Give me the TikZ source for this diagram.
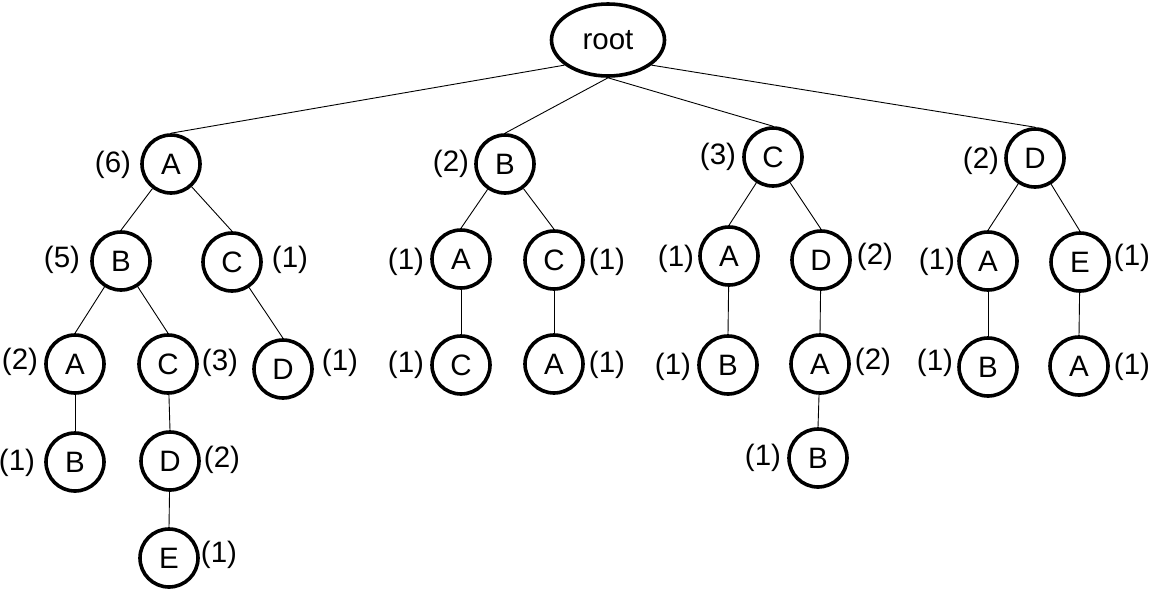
\documentclass[tikz,border=0pt]{standalone}
\usepackage{fontspec}
\setmainfont{Liberation Sans}
\usetikzlibrary{shapes.geometric}
\begin{document}
\begin{tikzpicture}[x=1pt,y=-1pt,
  nd/.style={circle,draw,line width=3.6pt,minimum size=58pt,inner sep=0pt,font=\fontsize{29.5}{31}\selectfont},
  rt/.style={ellipse,draw,line width=3.6pt,minimum width=113pt,minimum height=72pt,inner sep=0pt,font=\fontsize{29.5}{31}\selectfont},
  lb/.style={inner sep=0pt,font=\fontsize{29.5}{31}\selectfont},
  ed/.style={line width=0.9pt}]
\useasboundingbox (0,0) rectangle (1150,590);
% root
\node[rt] (r) at (608,40) {root};
% level 1
\node[nd] (a) at (171,164) {A};
\node[nd] (b) at (505,164) {B};
\node[nd] (c) at (773,157) {C};
\node[nd] (d) at (1035,158) {D};
\node[lb] (la) at (113,165) {(6)};
\node[lb] (lb1) at (451,164) {(2)};
\node[lb] (lc) at (718,157) {(3)};
\node[lb] (ld) at (981,161) {(2)};
% level 2
\node[nd] (ab) at (121,261) {B};
\node[nd] (ac) at (232,262) {C};
\node[nd] (ba) at (461,259) {A};
\node[nd] (bc) at (554,260) {C};
\node[nd] (ca) at (729,256) {A};
\node[nd] (cd) at (821,260) {D};
\node[nd] (da) at (988,261) {A};
\node[nd] (de) at (1080,262) {E};
\node[lb] (lab) at (62,260) {(5)};
\node[lb] (lac) at (290,260) {(1)};
\node[lb] (lba) at (406,262) {(1)};
\node[lb] (lbc) at (607,262) {(1)};
\node[lb] (lca) at (676,259) {(1)};
\node[lb] (lcd) at (875,257) {(2)};
\node[lb] (lda) at (937,262) {(1)};
\node[lb] (lde) at (1132,258) {(1)};
% level 3
\node[nd] (aba) at (75,364) {A};
\node[nd] (abc) at (168,364) {C};
\node[nd] (acd) at (283,369) {D};
\node[nd] (bac) at (461,365) {C};
\node[nd] (bca) at (554,364) {A};
\node[nd] (cab) at (728,365) {B};
\node[nd] (cda) at (820,364) {A};
\node[nd] (dab) at (988,367) {B};
\node[nd] (dea) at (1079,366) {A};
\node[lb] (laba) at (20,362) {(2)};
\node[lb] (labc) at (220,363) {(3)};
\node[lb] (lacd) at (340,363) {(1)};
\node[lb] (lbac) at (406,365) {(1)};
\node[lb] (lbca) at (607,365) {(1)};
\node[lb] (lcab) at (673,367) {(1)};
\node[lb] (lcda) at (873,362) {(2)};
\node[lb] (ldab) at (935,363) {(1)};
\node[lb] (ldea) at (1132,367) {(1)};
% level 4
\node[nd] (abab) at (75,462) {B};
\node[nd] (abcd) at (170,461) {D};
\node[nd] (cdab) at (818,458) {B};
\node[lb] (labab) at (17,463) {(1)};
\node[lb] (labcd) at (222,460) {(2)};
\node[lb] (lcdab) at (763,458) {(1)};
% level 5
\node[nd] (abcde) at (169,558) {E};
\node[lb] (labcde) at (219,555) {(1)};
% edges
\draw[ed] (r.210) -- (a.north);
\draw[ed] (r.south) -- (b.north);
\draw[ed] (r.south) -- (c.north);
\draw[ed] (r.330) -- (d.north);
\draw[ed] (a) -- (ab.north);
\draw[ed] (a) -- (ac.north);
\draw[ed] (b) -- (ba.north);
\draw[ed] (b) -- (bc.north);
\draw[ed] (c) -- (ca.north);
\draw[ed] (c) -- (cd.north);
\draw[ed] (d) -- (da.north);
\draw[ed] (d) -- (de.north);
\draw[ed] (ab) -- (aba.north);
\draw[ed] (ab) -- (abc.north);
\draw[ed] (ac) -- (acd.north);
\draw[ed] (ba) -- (bac.north);
\draw[ed] (bc) -- (bca.north);
\draw[ed] (ca) -- (cab.north);
\draw[ed] (cd) -- (cda.north);
\draw[ed] (da) -- (dab.north);
\draw[ed] (de) -- (dea.north);
\draw[ed] (aba) -- (abab.north);
\draw[ed] (abc) -- (abcd.north);
\draw[ed] (cda) -- (cdab.north);
\draw[ed] (abcd) -- (abcde.north);
\end{tikzpicture}
\end{document}
